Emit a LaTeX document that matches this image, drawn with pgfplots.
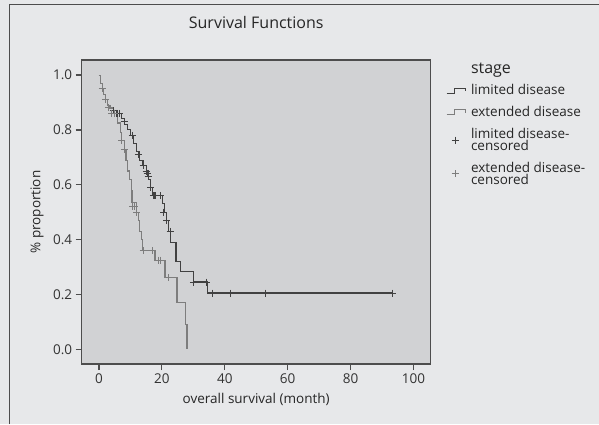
\documentclass[border=0pt]{standalone}
\usepackage{fontspec}
\setmainfont{Open Sans}
\usepackage{pgfplots}
\pgfplotsset{compat=1.18}
\definecolor{outerbg}{RGB}{231,232,234}
\definecolor{plotbg}{RGB}{209,210,212}
\definecolor{framec}{RGB}{77,77,77}
\definecolor{limc}{RGB}{65,65,65}
\definecolor{extc}{RGB}{125,125,125}
\pgfplotsset{steplegend/.style={legend image code/.code={%
  \draw[##1,line width=0.9pt] (0pt,-2.5pt) -- (8pt,-2.5pt) -- (8pt,2.5pt) -- (19pt,2.5pt) -- (19pt,-0.5pt);}}}

\pgfplotstableread{
x y
0 1.00
0.5 0.97
1.0 0.95
1.5 0.93
2.0 0.91
2.7 0.89
3.5 0.88
4.5 0.87
5.5 0.86
7.3 0.84
8.0 0.82
9.0 0.80
10.0 0.78
11.0 0.75
12.0 0.72
13.0 0.69
14.0 0.67
15.0 0.65
15.8 0.62
16.3 0.59
17.0 0.56
20.3 0.53
20.8 0.50
21.5 0.47
22.0 0.43
22.6 0.39
24.5 0.32
25.8 0.285
30.0 0.245
34.5 0.205
93.5 0.205
}\limited

\pgfplotstableread{
x y
0 1.00
0.5 0.97
1.0 0.95
1.5 0.93
2.0 0.91
2.7 0.89
3.5 0.88
4.5 0.86
6.0 0.825
6.7 0.79
7.3 0.76
8.0 0.73
8.6 0.69
9.2 0.65
9.6 0.62
10.2 0.58
10.5 0.535
12.0 0.50
12.6 0.47
13.0 0.43
13.4 0.40
13.7 0.36
17.8 0.325
21.0 0.26
24.8 0.17
27.4 0.09
28.0 0.0
}\extended

\pgfplotstableread{
x y
4.5 0.87
5.0 0.86
5.5 0.86
6.0 0.86
6.5 0.86
8.0 0.83
10.5 0.78
12.5 0.71
14.0 0.67
15.0 0.65
15.3 0.64
15.6 0.63
16.5 0.59
17.3 0.56
17.6 0.56
18.0 0.56
19.5 0.56
20.6 0.50
21.5 0.47
22.6 0.43
30.0 0.245
34.3 0.245
36.0 0.205
41.7 0.205
52.8 0.205
93.5 0.205
}\limcens

\pgfplotstableread{
x y
1.0 0.95
2.0 0.91
3.0 0.88
4.0 0.86
5.0 0.86
7.3 0.76
8.0 0.73
10.8 0.52
11.3 0.52
12.0 0.50
14.0 0.36
16.9 0.36
18.8 0.325
19.7 0.325
22.0 0.26
}\extcens

\begin{document}
\begin{tikzpicture}[x=1pt,y=1pt]
\useasboundingbox (0,0) rectangle (599,424);
\fill[outerbg] (0,0) rectangle (599,424);
\draw[framec,line width=1pt] (9,0) -- (9,419) -- (599,419);
\begin{axis}[
  at={(81.7pt,60pt)}, anchor=south west,
  scale only axis, width=349pt, height=304pt,
  xmin=-5.5, xmax=105.5, ymin=-0.054, ymax=1.055,
  xtick={0,20,...,100}, ytick={0,0.2,...,1.0},
  yticklabel style={/pgf/number format/.cd,fixed,fixed zerofill,precision=1},
  /pgf/number format/assume math mode=true,
  tick label style={font=\fontsize{13.5}{15}\selectfont, text=black!80},
  tick pos=left, tick align=outside, major tick length=6pt,
  tick style={framec, line width=1.2pt},
  axis line style={framec, line width=1.5pt},
  axis background/.style={fill=plotbg},
  title={Survival Functions},
  title style={font=\fontsize{16}{18}\selectfont, text=black!85, at={(axis description cs:0.5,1.105)}, anchor=center, yshift=0pt},
  xlabel={overall survival (month)},
  xlabel style={font=\fontsize{13.5}{15}\selectfont, text=black!85, at={(axis description cs:0.5,-0.118)}, anchor=center, yshift=0pt},
  ylabel={\% proportion},
  ylabel style={font=\fontsize{13.5}{15}\selectfont, text=black!85, at={(axis description cs:-0.128,0.5)}, anchor=center},
  legend style={draw=none, fill=none, at={(1.035,1.005)}, anchor=north west,
    font=\fontsize{13.5}{12}\selectfont, text=black!85, row sep=6pt,
    /tikz/every odd column/.append style={column sep=3pt},
    cells={anchor=west, align=left}},
  legend cell align=left,
]
\addlegendimage{empty legend}
\addlegendentry{\fontsize{16}{18}\selectfont stage\rule[-8pt]{0pt}{5pt}}
\addplot[const plot, limc, line width=1.1pt, no marks, steplegend] table[x=x,y=y] {\limited};
\addlegendentry{limited disease}
\addplot[const plot, extc, line width=1.1pt, no marks, steplegend] table[x=x,y=y] {\extended};
\addlegendentry{extended disease}
\addplot[only marks, mark=+, mark size=3.5pt, limc, mark options={line width=1pt}] table[x=x,y=y] {\limcens};
\addlegendentry{limited disease-\\censored\rule[-8pt]{0pt}{1pt}}
\addplot[only marks, mark=+, mark size=3.5pt, extc, mark options={line width=1pt}] table[x=x,y=y] {\extcens};
\addlegendentry{extended disease-\\censored}
\end{axis}
\end{tikzpicture}
\end{document}
